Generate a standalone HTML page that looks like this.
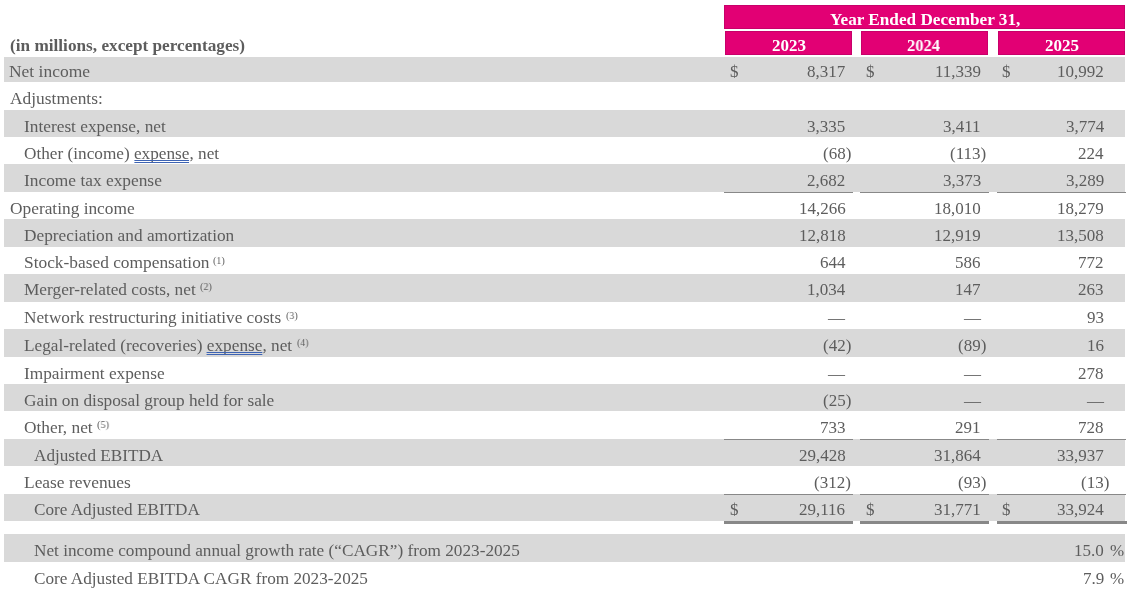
<!DOCTYPE html><html><head><meta charset="utf-8"><style>
html,body{margin:0;padding:0;background:#fff;}
body{width:1129px;height:591px;position:relative;overflow:hidden;font-family:"Liberation Serif",serif;font-size:17px;color:#5d5d5d;}
.a{position:absolute;white-space:nowrap;line-height:1;transform-origin:0 0;will-change:transform;}
.g{position:absolute;background:#d9d9d9;left:4px;width:1121px;}
.ln{position:absolute;background:#888888;}
.m{position:absolute;background:#e20074;box-shadow:inset 0 0 0 1px #c8006a;}
.b{font-weight:bold;}
.wh{color:#fff;font-weight:bold;}
.s{font-size:11px;}
.u{position:absolute;height:1px;background:#3d63b3;}
</style></head><body>
<div class="m" style="left:724px;top:5px;width:401px;height:24px"></div>
<div class="m" style="left:725px;top:31px;width:127px;height:24px"></div>
<div class="m" style="left:861px;top:31px;width:127px;height:24px"></div>
<div class="m" style="left:998px;top:31px;width:127px;height:24px"></div>
<div class="a wh" style="left:829.80px;top:10.76px;transform:scaleX(1.0111)">Year Ended December 31,</div>
<div class="a wh" style="left:772.00px;top:36.76px;transform:scaleX(0.9910)">2023</div>
<div class="a wh" style="left:907.00px;top:36.76px;transform:scaleX(0.9710)">2024</div>
<div class="a wh" style="left:1044.90px;top:36.76px;transform:scaleX(1.0030)">2025</div>
<div class="a b" style="left:10.30px;top:36.76px;transform:scaleX(1.0129)">(in millions, except percentages)</div>
<div class="g" style="top:57px;height:25px"></div>
<div class="g" style="top:110px;height:27px"></div>
<div class="g" style="top:164px;height:28px"></div>
<div class="g" style="top:219px;height:28px"></div>
<div class="g" style="top:274px;height:27.5px"></div>
<div class="g" style="top:329px;height:28px"></div>
<div class="g" style="top:384px;height:26.5px"></div>
<div class="g" style="top:439px;height:27px"></div>
<div class="g" style="top:494px;height:27px"></div>
<div class="g" style="top:534px;height:28px"></div>
<div class="a" style="left:9.27px;top:62.76px;transform:scaleX(1.0276)">Net income</div>
<div class="a" style="left:730.00px;top:62.76px">$</div>
<div class="a" style="right:283.70px;top:62.76px">8,317</div>
<div class="a" style="left:865.80px;top:62.76px">$</div>
<div class="a" style="right:148.10px;top:62.76px">11,339</div>
<div class="a" style="left:1002.20px;top:62.76px">$</div>
<div class="a" style="right:25.20px;top:62.76px">10,992</div>
<div class="a" style="left:9.66px;top:89.76px;transform:scaleX(1.0233)">Adjustments:</div>
<div class="a" style="left:23.81px;top:117.76px;transform:scaleX(1.0187)">Interest expense, net</div>
<div class="a" style="right:283.70px;top:117.76px">3,335</div>
<div class="a" style="right:148.10px;top:117.76px">3,411</div>
<div class="a" style="right:25.20px;top:117.76px">3,774</div>
<div class="a" style="left:24.13px;top:144.76px;transform:scaleX(1.0127)">Other (income) <span style="position:relative">expense<span class="u" style="left:0;right:0;top:15.5px"></span><span class="u" style="left:0;right:0;top:17.5px"></span></span>, net</div>
<div class="a" style="right:283.70px;top:144.76px">(68<span style="position:absolute;left:100%">)</span></div>
<div class="a" style="right:148.10px;top:144.76px">(113<span style="position:absolute;left:100%">)</span></div>
<div class="a" style="right:25.20px;top:144.76px">224</div>
<div class="a" style="left:23.81px;top:171.76px;transform:scaleX(1.0210)">Income tax expense</div>
<div class="a" style="right:283.70px;top:171.76px">2,682</div>
<div class="a" style="right:148.10px;top:171.76px">3,373</div>
<div class="a" style="right:25.20px;top:171.76px">3,289</div>
<div class="a" style="left:9.53px;top:199.76px;transform:scaleX(1.0196)">Operating income</div>
<div class="a" style="right:283.70px;top:199.76px">14,266</div>
<div class="a" style="right:148.10px;top:199.76px">18,010</div>
<div class="a" style="right:25.20px;top:199.76px">18,279</div>
<div class="a" style="left:23.97px;top:226.76px;transform:scaleX(1.0169)">Depreciation and amortization</div>
<div class="a" style="right:283.70px;top:226.76px">12,818</div>
<div class="a" style="right:148.10px;top:226.76px">12,919</div>
<div class="a" style="right:25.20px;top:226.76px">13,508</div>
<div class="a" style="left:24.02px;top:254.26px;transform:scaleX(1.0208)">Stock-based compensation</div>
<div class="a s" style="left:213.40px;top:254.99px;transform:scaleX(0.9040)">(1)</div>
<div class="a" style="right:283.70px;top:254.26px">644</div>
<div class="a" style="right:148.10px;top:254.26px">586</div>
<div class="a" style="right:25.20px;top:254.26px">772</div>
<div class="a" style="left:23.97px;top:280.76px;transform:scaleX(1.0171)">Merger-related costs, net</div>
<div class="a s" style="left:200.40px;top:281.49px;transform:scaleX(0.9192)">(2)</div>
<div class="a" style="right:283.70px;top:280.76px">1,034</div>
<div class="a" style="right:148.10px;top:280.76px">147</div>
<div class="a" style="right:25.20px;top:280.76px">263</div>
<div class="a" style="left:23.98px;top:309.26px;transform:scaleX(1.0141)">Network restructuring initiative costs</div>
<div class="a s" style="left:285.90px;top:309.99px;transform:scaleX(0.9040)">(3)</div>
<div class="a" style="right:283.70px;top:309.26px">—</div>
<div class="a" style="right:148.10px;top:309.26px">—</div>
<div class="a" style="right:25.20px;top:309.26px">93</div>
<div class="a" style="left:23.98px;top:336.76px;transform:scaleX(1.0142)">Legal-related (recoveries) <span style="position:relative">expense<span class="u" style="left:0;right:0;top:15.5px"></span><span class="u" style="left:0;right:0;top:17.5px"></span></span>, net</div>
<div class="a s" style="left:297.00px;top:337.49px;transform:scaleX(0.8888)">(4)</div>
<div class="a" style="right:283.70px;top:336.76px">(42<span style="position:absolute;left:100%">)</span></div>
<div class="a" style="right:148.10px;top:336.76px">(89<span style="position:absolute;left:100%">)</span></div>
<div class="a" style="right:25.20px;top:336.76px">16</div>
<div class="a" style="left:23.81px;top:364.76px;transform:scaleX(1.0163)">Impairment expense</div>
<div class="a" style="right:283.70px;top:364.76px">—</div>
<div class="a" style="right:148.10px;top:364.76px">—</div>
<div class="a" style="right:25.20px;top:364.76px">278</div>
<div class="a" style="left:23.92px;top:391.76px;transform:scaleX(1.0155)">Gain on disposal group held for sale</div>
<div class="a" style="right:283.70px;top:391.76px">(25<span style="position:absolute;left:100%">)</span></div>
<div class="a" style="right:148.10px;top:391.76px">—</div>
<div class="a" style="right:25.20px;top:391.76px">—</div>
<div class="a" style="left:23.91px;top:418.76px;transform:scaleX(1.0200)">Other, net</div>
<div class="a s" style="left:97.10px;top:419.49px;transform:scaleX(0.9344)">(5)</div>
<div class="a" style="right:283.70px;top:418.76px">733</div>
<div class="a" style="right:148.10px;top:418.76px">291</div>
<div class="a" style="right:25.20px;top:418.76px">728</div>
<div class="a" style="left:34.07px;top:446.76px;transform:scaleX(1.0101)">Adjusted EBITDA</div>
<div class="a" style="right:283.70px;top:446.76px">29,428</div>
<div class="a" style="right:148.10px;top:446.76px">31,864</div>
<div class="a" style="right:25.20px;top:446.76px">33,937</div>
<div class="a" style="left:23.77px;top:473.76px;transform:scaleX(1.0243)">Lease revenues</div>
<div class="a" style="right:283.70px;top:473.76px">(312<span style="position:absolute;left:100%">)</span></div>
<div class="a" style="right:148.10px;top:473.76px">(93<span style="position:absolute;left:100%">)</span></div>
<div class="a" style="right:25.20px;top:473.76px">(13<span style="position:absolute;left:100%">)</span></div>
<div class="a" style="left:33.61px;top:501.06px;transform:scaleX(1.0095)">Core Adjusted EBITDA</div>
<div class="a" style="left:730.00px;top:501.06px">$</div>
<div class="a" style="right:283.70px;top:501.06px">29,116</div>
<div class="a" style="left:865.80px;top:501.06px">$</div>
<div class="a" style="right:148.10px;top:501.06px">31,771</div>
<div class="a" style="left:1002.20px;top:501.06px">$</div>
<div class="a" style="right:25.20px;top:501.06px">33,924</div>
<div class="a" style="left:33.68px;top:541.76px;transform:scaleX(1.0129)">Net income compound annual growth rate (“CAGR”) from 2023-2025</div>
<div class="a" style="right:25.20px;top:541.76px">15.0</div>
<div class="a" style="left:1110px;top:541.76px">%</div>
<div class="a" style="left:33.62px;top:569.76px;transform:scaleX(1.0117)">Core Adjusted EBITDA CAGR from 2023-2025</div>
<div class="a" style="right:25.20px;top:569.76px">7.9</div>
<div class="a" style="left:1110px;top:569.76px">%</div>
<div class="ln" style="left:724px;top:192px;width:129px;height:1px"></div>
<div class="ln" style="left:860px;top:192px;width:129px;height:1px"></div>
<div class="ln" style="left:997px;top:192px;width:129px;height:1px"></div>
<div class="ln" style="left:724px;top:439px;width:129px;height:1px"></div>
<div class="ln" style="left:860px;top:439px;width:129px;height:1px"></div>
<div class="ln" style="left:997px;top:439px;width:129px;height:1px"></div>
<div class="ln" style="left:724px;top:494px;width:129px;height:1px"></div>
<div class="ln" style="left:860px;top:494px;width:129px;height:1px"></div>
<div class="ln" style="left:997px;top:494px;width:129px;height:1px"></div>
<div class="ln" style="left:724px;top:521px;width:129px;height:3px"></div>
<div class="ln" style="left:860px;top:521px;width:129px;height:3px"></div>
<div class="ln" style="left:997px;top:521px;width:130px;height:3px"></div>
</body></html>
